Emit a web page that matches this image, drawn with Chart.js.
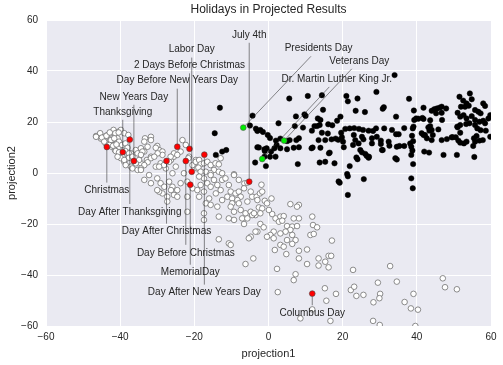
<!DOCTYPE html>
<html>
<head>
<meta charset="utf-8">
<script src="https://cdn.jsdelivr.net/npm/chart.js@4.4.0/dist/chart.umd.min.js"></script>
<style>
html, body { margin: 0; padding: 0; background: #fff; }
#wrap { width: 503px; height: 365px; }
</style>
</head>
<body>
<div id="wrap"><canvas id="grafico" width="503" height="365"></canvas></div>
<script>
const xTicks = [-60, -40, -20, 0, 20, 40, 60];
const yTicks = [-60, -40, -20, 0, 20, 40, 60];

// ordinary days (white cluster)
const whiteDays = [
  [-46.5,14.5],[-45.4,15.6],[-44.3,14.2],[-45.2,13.5],[-43.4,14.9],[-42.5,15.6],[-41.8,16.9],[-41.4,14.9],[-40.5,16.2],[-39.8,16.9],
  [-38.9,15.6],[-37.8,14.9],[-40.7,13.6],[-42.1,12.9],[-42.9,12.3],[-43.9,11.6],[-42.3,10.3],[-41.4,9.0],[-40.3,10.3],[-39.4,6.4],
  [-38.9,4.4],[-38.0,5.8],[-37.1,7.7],[-35.8,9.0],[-34.4,9.7],[-35.3,7.7],[-33.5,8.4],[-31.7,14.2],[-30.0,10.6],[-29.5,9.0],
  [-28.6,8.4],[-31.7,6.4],[-32.8,5.1],[-34.4,3.8],[-30.4,2.5],[-29.1,3.8],[-27.7,1.8],[-26.3,5.1],[-25.5,6.4],[-25.0,2.5],
  [-23.2,12.9],[-21.4,6.4],[-19.6,5.1],[-18.3,3.8],[-19.2,1.8],
  [-46.5,14.2],[-44.9,13.9],[-43.7,14.6],[-42.8,15.9],[-41.3,15.6],[-40.4,15.9],[-44.3,12.3],[-42.5,12.9],[-41.6,13.6],[-40.3,12.3],
  [-42.9,11.0],[-41.9,10.7],[-41.0,11.2],[-39.5,11.0],[-38.6,11.6],[-38.0,9.9],[-41.2,8.6],[-40.3,8.1],[-38.6,8.6],[-37.6,7.7],
  [-39.8,5.8],[-38.9,5.1],[-37.6,6.0],[-36.7,6.4],[-40.7,6.4],[-38.5,3.1],[-37.1,2.5],[-36.7,1.8],[-35.3,1.2],
  [-22.3,11.0],[-23.7,8.4],[-25.5,7.7],[-24.6,7.1],[-26.4,6.4],[-26.8,4.4],[-28.2,3.1],[-29.5,2.5],[-30.4,9.9],[-28.6,7.1],
  [-29.9,7.7],[-31.7,5.8],[-30.8,6.4],[-32.6,4.2],[-33.5,3.1],[-34.4,1.8],[-33.3,13.6],[-31.7,12.9],[-32.6,10.3],[-33.5,12.3],
  [-34.0,8.4],[-34.4,7.1],[-34.9,5.1],[-35.8,3.8],
  [-21.6,5.8],[-20.5,3.1],[-19.6,4.4],[-18.7,5.1],[-18.3,3.4],[-18.9,2.1],[-17.4,3.8],[-16.5,4.4],[-15.6,3.1],[-14.3,3.8],
  [-13.4,3.4],[-14.7,1.2],[-18.3,0.5],[-16.9,0.5],[-15.6,-0.1],[-13.4,0.5],[-12.5,-0.1],[-9.3,-0.5],[-12.9,5.8],
  [-34.4,1.2],[-32.2,-0.8],[-33.5,-2.7],[-31.7,-4.0],[-30.0,-2.1],[-29.1,-4.0],[-28.1,-5.4],[-26.8,-3.4],[-25.9,-5.4],[-24.6,-6.7],
  [-25.5,-8.6],[-27.3,-9.3],[-28.6,-8.0],[-29.5,-7.3],[-23.7,-4.0],[-21.9,-3.4],[-20.5,-6.0],[-19.2,-6.7],[-18.3,-4.7],[-16.5,-4.0],
  [-17.4,-2.1],[-15.6,-0.8],[-14.7,-2.7],[-13.8,-4.7],[-12.5,-2.7],[-11.6,-2.1],[-12.9,-6.7],[-14.2,-8.0],[-16.0,-10.0],[-16.9,-11.9],
  [-15.6,-12.5],[-13.8,-13.2],[-12.5,-10.6],[-11.1,-9.3],[-17.4,-18.4],[-13.4,-26.0],[-10.7,-27.6],[-10.2,-28.2],[-21.9,-15.2],[-27.3,-11.2],
  [-17.4,-15.8],[-13.4,-17.1],[-10.7,-17.8],[-25.9,-0.1],[-22.8,-0.1],[-18.7,-1.4],[-21.9,-9.3],[-18.7,-9.3],[-24.6,-9.3],[-30.0,-6.7],
  [-26.3,-6.7],[-15.6,-5.4],[-17.4,-7.3],
  [-9.3,-0.8],[-6.5,-4.1],[-5.7,-3.8],[-1.9,-4.6],[-10.2,-7.3],[-8.9,-8.0],[-8.0,-7.3],[-7.5,-9.3],[-9.8,-10.0],[-8.4,-10.6],
  [-5.7,-11.2],[-4.4,-9.3],[-3.2,-9.3],[-2.3,-8.0],[-1.7,-7.3],[-3.0,-10.6],[-1.0,-10.9],[0.8,-10.0],[5.9,-12.2],[8.2,-12.5],
  [-9.3,-15.2],[-7.5,-14.5],[-6.2,-15.8],[-4.8,-15.2],[-3.5,-16.5],[-2.6,-13.5],[-1.7,-13.9],[-7.1,-17.8],[-5.7,-17.8],[-9.3,-18.4],
  [-6.6,-20.0],[-4.4,-16.5],[-3.9,-15.8],[-2.2,-20.0],[-1.3,-21.3],[1.0,-16.1],[1.9,-17.8],[3.2,-17.1],[4.1,-16.9],[2.8,-19.1],
  [3.7,-18.7],[5.0,-20.8],[6.4,-21.0],[8.2,-17.8],[6.8,-17.8],[11.8,-17.1],[12.0,-20.4],[13.1,-21.3],[7.7,-20.8],[5.9,-22.3],
  [4.6,-23.0],[3.2,-23.7],[1.4,-23.0],[0.5,-24.3],[1.4,-25.6],[-0.4,-25.0],[-3.0,-23.0],[-4.8,-25.0],[-5.3,-25.6],[-3.5,-23.0],
  [6.4,-24.3],[7.3,-26.3],[11.3,-24.3],[12.2,-23.9],[17.1,-26.5],[3.2,-28.2],[4.1,-28.9],[6.4,-27.8],[1.7,-30.2],[8.2,-30.5],
  [10.4,-30.0],[4.8,-31.8],[8.2,-33.5],[10.4,-35.7],[13.5,-33.5],[15.3,-34.8],[16.2,-32.5],[16.9,-32.5],[13.5,-36.3],[16.2,-37.0],
  [-4.1,-33.5],[-6.2,-35.7],[2.3,-37.6],[22.8,-38.0],[32.8,-36.5],[7.3,-39.7],[6.8,-42.0],[15.2,-45.2],[18.2,-47.4],[15.6,-50.1],
  [2.5,-46.7],[8.6,-57.0],[16.7,-58.0],[11.8,-53.5],[22.2,-45.9],[23.1,-44.6],[23.7,-48.2],[25.6,-47.8],[29.5,-43.0],[30.1,-47.4],
  [29.9,-49.1],[28.3,-50.7],[34.6,-42.6],[36.7,-50.6],[39.1,-47.4],[38.4,-53.1],[40.3,-53.6],[47.0,-41.3],[47.6,-44.8],[50.8,-45.6],
  [28.2,-58.0],[30.0,-59.6],[39.6,-60.0],
  [-10.7,-4.7],[-8.0,-2.7],[-6.6,-6.0],[-4.8,-7.3],[-8.0,-11.9],[-9.8,-11.9],[-10.2,-13.2],[-2.2,-15.8],[-0.4,-11.9],[0.1,-14.5],
  [7.7,-13.2],[5.0,-26.3]
];

// ordinary days (black cluster)
const blackDays = [
  [-13.1,25.6],[-14.5,15.6],[-14.2,7.1],[-12.5,8.4],[-11.4,9.0],
  [-4.3,22.5],[-5.0,18.6],[-3.4,17.4],[-3.0,16.5],[-2.2,16.9],[-1.5,16.1],[-0.2,14.9],[0.4,13.7],
  [-3.0,10.1],[-2.6,10.0],[-1.1,9.3],[-0.5,9.7],[-1.0,8.6],[0.7,8.4],[1.6,9.7],[2.2,11.0],
  [-3.6,4.1],[-0.7,2.7],[0.4,6.4],[1.9,6.4],[-1.1,6.4],
  [2.0,12.7],[3.2,13.5],[5.0,12.5],[5.7,12.9],[7.5,12.9],[8.2,13.6],[3.2,9.7],[5.0,9.3],[6.8,9.9],[8.2,10.1],[7.9,3.5],
  [2.7,19.5],[5.6,29.2],[7.4,22.2],[9.7,23.0],[10.0,22.4],[7.1,18.4],[9.3,17.8],[11.7,16.6],[10.6,30.2],[14.4,30.5],[14.7,24.8],
  [13.3,21.4],[14.0,20.8],[13.1,18.4],[12.4,18.4],[13.8,18.8],[16.1,19.1],[17.2,18.7],[18.5,20.5],[19.4,22.1],[14.4,15.8],[16.0,15.5],
  [13.5,12.9],[15.3,12.9],[17.0,13.2],[18.1,13.5],[18.8,13.0],[19.8,14.0],[20.1,12.3],[20.3,10.1],[11.6,9.7],[11.9,10.0],[14.0,9.9],[16.3,7.7],[16.5,8.0],
  [13.8,4.1],[15.3,4.4],[17.8,3.8],[21.9,2.7],[21.2,-0.4],[21.4,-1.3],[18.9,-3.3],[19.2,-3.8],[21.4,-8.6],[25.7,-2.4],
  [21.0,30.2],[21.4,28.1],[24.0,29.2],[23.5,24.4],[26.0,23.9],[29.1,31.8],[30.8,25.2],[31.1,25.8],[34.0,38.4],[37.9,29.1],[39.2,24.5],[34.4,22.1],
  [19.6,15.8],[20.7,17.3],[21.9,17.5],[23.1,17.6],[24.4,17.3],[25.5,16.9],[27.0,16.6],[28.2,16.5],[29.0,17.5],[31.2,17.5],[33.3,16.9],[36.6,17.6],[38.9,17.5],
  [23.0,14.9],[23.4,12.9],[22.8,11.0],[24.3,11.6],[25.2,14.2],[25.6,13.2],[27.9,13.6],[27.9,11.6],[29.2,14.2],[30.3,12.7],[30.3,11.4],[32.4,12.3],[32.6,10.7],
  [34.6,10.3],[35.3,10.6],[36.6,10.6],[38.2,11.6],[38.5,10.3],
  [34.4,15.2],[35.1,15.2],[38.7,14.6],[39.0,12.5],[41.3,15.6],[41.8,14.9],[42.2,14.9],[42.7,13.6],[44.0,12.9],[44.3,14.9],[46.7,12.9],[48.1,13.3],[49.4,14.0],[50.5,14.0],
  [24.75,9.0],[25.2,8.1],[26.1,7.5],[26.5,6.7],[27.1,6.4],[27.0,6.0],[23.7,6.1],[24.0,5.4],[30.6,9.0],[30.8,9.0],[34.2,5.8],[34.6,5.3],[38.8,8.8],[38.5,7.1],
  [39.0,3.5],[38.5,-2.1],[38.9,-6.0],
  [42.0,8.4],[43.3,8.0],[47.2,7.1],[50.8,7.1],[55.5,6.3],
  [39.1,18.2],[43.1,17.9],[43.4,16.6],[44.0,16.9],[43.6,18.4],[45.8,17.1],[46.8,20.8],
  [39.3,20.8],[39.8,21.4],[40.4,21.3],[41.5,21.6],[41.8,21.2],[43.6,20.7],
  [41.8,25.6],[44.0,24.4],[44.7,25.0],[45.4,25.3],[46.1,25.6],[46.7,26.0],[47.9,25.3],[45.2,23.4],[46.7,23.6],
  [51.5,29.9],[54.3,31.2],[52.5,28.4],[53.4,27.3],[54.8,28.9],[51.9,26.0],[53.0,26.0],[54.0,26.4],[57.9,27.3],[58.4,26.3],[55.7,24.7],[56.6,24.0],[57.2,23.4],
  [51.0,23.6],[51.7,22.1],[52.6,22.7],[53.4,21.4],[54.8,22.3],[55.7,20.8],[56.9,20.1],[57.9,20.5],[58.4,19.5],[59.3,21.4],[59.8,22.7],
  [50.9,18.2],[51.7,18.8],[53.3,19.2],[54.2,19.5],[55.7,18.8],[56.3,17.5],[57.2,16.8],[58.6,16.6],[59.8,14.2],[56.1,14.5],[55.4,13.6],[55.7,12.3],[56.9,12.7],
  [57.8,12.9],[55.2,10.6],[53.4,12.3],[52.7,11.6],[51.7,11.9],[51.2,12.7],[49.7,14.0],[51.0,17.9],[51.7,15.8]
];

// holidays: names, where they fall, where their labels sit
const holidayNames = ['Christmas', 'Thanksgiving', 'New Years Day', 'Day After Thanksgiving', 'Day After Christmas',
  'Day Before New Years Day', '2 Days Before Christmas', 'Day Before Christmas', 'Labor Day', 'MemorialDay',
  'Day After New Years Day', 'July 4th', 'Columbus Day', 'Presidents Day', 'Veterans Day', 'Dr. Martin Luther King Jr.'];
const holidayX = [-43.6, -39.3, -36.3, -37.4, -27.5, -24.6, -21.3, -22.3, -20.7, -21.1, -17.3, -5.2, 11.8, -6.8, 4.2, -1.7];
const holidayY = [10.2, 8.2, 4.7, 13.1, 4.7, 10.3, 9.5, 4.7, 0.5, -4.6, 7.2, -3.4, -47.3, 17.8, 12.7, 5.5];
const holidayCluster = ['red', 'red', 'red', 'red', 'red', 'red', 'red', 'red', 'red', 'red', 'red', 'red', 'red', 'green', 'green', 'green'];
const labelX = [-43.6, -39.3, -36.3, -37.4, -27.5, -24.6, -21.3, -22.3, -20.7, -21.1, -17.3, -5.2, 11.8, 13.5, 24.5, 18.4];
const labelY = [-6.9, 24.0, 29.9, -15.3, -23.0, 36.2, 42.2, -31.3, 48.4, -39.1, -46.9, 54.2, -55.0, 48.9, 44.0, 36.9];

const FONTE = '"Liberation Sans", Arial, sans-serif';
const TEXTO = '#262626';

const pontos = (lista) => lista.map(p => ({ x: p[0], y: p[1] }));
const feriados = (cor) => holidayX.map((x, i) => ({ x, y: holidayY[i] })).filter((p, i) => holidayCluster[i] === cor);
const menos = (v) => String(v).replace('-', '\u2212');

/* --- fundo cinza do seaborn --- */
const fundo = {
    id: 'fundo',
    beforeDraw(chart) {
        const { ctx, chartArea: a } = chart;
        ctx.save();
        ctx.fillStyle = '#EAEAF2';
        ctx.fillRect(a.left, a.top, a.right - a.left, a.bottom - a.top);
        ctx.restore();
    }
};

/* --- anotações e títulos --- */
const anotacoes = {
    id: 'anotacoes',
    afterDatasetsDraw(chart) {
        const { ctx, scales: { x, y }, chartArea: a } = chart;
        ctx.save();
        ctx.font = '10px ' + FONTE;
        ctx.textAlign = 'center';
        ctx.textBaseline = 'middle';
        holidayNames.forEach((nome, i) => {
            const px = x.getPixelForValue(holidayX[i]);
            const py = y.getPixelForValue(holidayY[i]);
            const lx = x.getPixelForValue(labelX[i]);
            const ly = y.getPixelForValue(labelY[i]);
            const dx = lx - px, dy = ly - py;
            const t0 = 3 / Math.hypot(dx, dy);
            const t1 = 1 - 8 / Math.abs(dy);
            ctx.strokeStyle = 'rgba(40,40,40,0.6)';
            ctx.lineWidth = 0.9;
            ctx.beginPath();
            ctx.moveTo(px + dx * t0, py + dy * t0);
            ctx.lineTo(px + dx * t1, py + dy * t1);
            ctx.stroke();
            ctx.fillStyle = TEXTO;
            ctx.fillText(nome, lx, ly);
        });

        ctx.font = '12px ' + FONTE;
        ctx.fillText('Holidays in Projected Results', (a.left + a.right) / 2, 10);
        ctx.font = '11px ' + FONTE;
        ctx.fillText('projection1', (a.left + a.right) / 2, 354);
        ctx.translate(12, (a.top + a.bottom) / 2);
        ctx.rotate(-Math.PI / 2);
        ctx.fillText('projection2', 0, 0);
        ctx.restore();
    }
};

const eixo = (ticks, ajuste) => ({
    type: 'linear',
    min: ticks[0],
    max: ticks[ticks.length - 1],
    afterBuildTicks: (s) => { s.ticks = ticks.map(v => ({ value: v })); },
    afterFit: ajuste,
    grid: { color: '#ffffff', lineWidth: 1, drawTicks: false },
    border: { display: false },
    ticks: { color: TEXTO, font: { family: FONTE, size: 10 }, callback: menos }
});

const escalaX = eixo(xTicks, (s) => { s.height = 39; });
escalaX.ticks.padding = 5;
escalaX.ticks.maxRotation = 0;
const escalaY = eixo(yTicks, (s) => { s.width = 46; });
escalaY.ticks.padding = 8;

new Chart(document.getElementById('grafico').getContext('2d'), {
    type: 'scatter',
    data: {
        datasets: [
            { label: 'feriados', data: feriados('red'), backgroundColor: '#ff0000', borderColor: '#444', borderWidth: 0.6, pointRadius: 2.9 },
            { label: 'feriados2', data: feriados('green'), backgroundColor: '#00ee00', borderColor: '#555', borderWidth: 0.6, pointRadius: 2.9 },
            { label: 'preto', data: pontos(blackDays), backgroundColor: '#000', borderColor: '#000', borderWidth: 0.5, pointRadius: 2.7 },
            { label: 'branco', data: pontos(whiteDays), backgroundColor: '#fff', borderColor: '#707070', borderWidth: 0.8, pointRadius: 2.8 }
        ]
    },
    options: {
        responsive: false,
        animation: false,
        events: [],
        layout: { padding: { top: 20, right: 12, left: 0, bottom: 0 } },
        plugins: { legend: { display: false }, tooltip: { enabled: false }, title: { display: false } },
        scales: { x: escalaX, y: escalaY }
    },
    plugins: [fundo, anotacoes]
});
</script>
</body>
</html>
